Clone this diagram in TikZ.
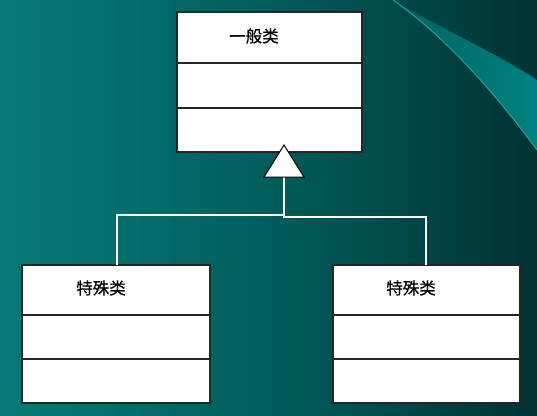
\documentclass[tikz,border=0pt]{standalone}
\usepackage{fontspec}
\newfontfamily\cjk[FakeBold=0.6]{Noto Sans CJK SC}
\definecolor{bgL}{HTML}{087B76}
\definecolor{bgM}{HTML}{005E5C}
\definecolor{bgR}{HTML}{003233}
\definecolor{bandL}{HTML}{00605F}
\definecolor{bandR}{HTML}{008282}
\definecolor{edge}{HTML}{22A8A8}
\begin{document}
\begin{tikzpicture}[x=1pt,y=-1pt,
  classbox/.style={draw=black!85,line width=1.1pt,fill=white},
  classtext/.style={font=\cjk\fontsize{16.5}{17}\selectfont,text=black,inner sep=0pt},
  link/.style={draw=white,line width=2pt},
  genarrow/.style={draw=black,line width=1pt,fill=white,line join=miter}]
\useasboundingbox (0,0) rectangle (537,415);
% background
\shade[left color=bgL,right color=bgR,middle color=bgM,shading angle=90] (0,0) rectangle (537,415);
\fill[left color=bandL,right color=bandR] (393,0) .. controls (450,33) and (500,55) .. (537,80) -- (537,150) .. controls (500,100) and (450,40) .. (393,0) -- cycle;
\draw[edge,line width=0.9pt] (393,0) .. controls (450,40) and (500,100) .. (537,150);
% general class
\draw[classbox] (177,12) rectangle (362,152);
\draw[black!85,line width=1.1pt] (177,63) -- (362,63) (177,108) -- (362,108);
\node[classtext] (gen) at (254,36) {一般类};
% special classes
\draw[classbox] (22,265) rectangle (210,403);
\draw[black!85,line width=1.1pt] (22,315) -- (210,315) (22,359) -- (210,359);
\node[classtext] (spL) at (101,288) {特殊类};
\draw[classbox] (333,265) rectangle (520,403);
\draw[black!85,line width=1.1pt] (333,315) -- (520,315) (333,359) -- (520,359);
\node[classtext] (spR) at (411,288) {特殊类};
% connectors
\coordinate (tri) at (284,177);
\coordinate (jL) at (284,215);
\coordinate (jR) at (284,217);
\coordinate (topL) at (117,265);
\coordinate (topR) at (426,265);
\draw[link] (tri) -- (jL) -- (117,215) -- (topL);
\draw[link] (jL) -- (jR) -- (426,217) -- (topR);
\draw[genarrow] (284,145) -- (304,177) -- (264,177) -- cycle;
\end{tikzpicture}
\end{document}
